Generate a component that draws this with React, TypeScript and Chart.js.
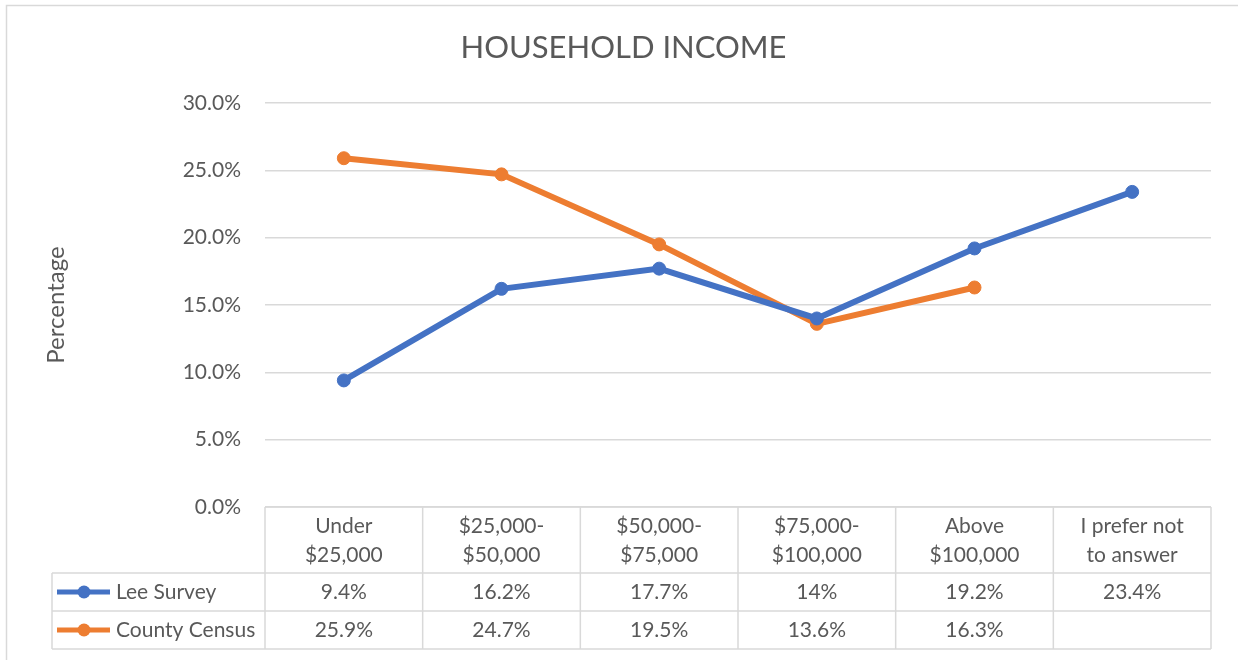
import React, { useEffect, useRef } from "react";
import { Chart, registerables } from "chart.js";

Chart.register(...registerables);

const chartTitle = "HOUSEHOLD INCOME";
const yAxisTitle = "Percentage";
const categories: string[][] = [
  ["Under", "$25,000"],
  ["$25,000-", "$50,000"],
  ["$50,000-", "$75,000"],
  ["$75,000-", "$100,000"],
  ["Above", "$100,000"],
  ["I prefer not", "to answer"],
];
const leeSurvey: (number | null)[] = [9.4, 16.2, 17.7, 14, 19.2, 23.4];
const countyCensus: (number | null)[] = [25.9, 24.7, 19.5, 13.6, 16.3, null];
const seriesNames = ["Lee Survey", "County Census"];
const seriesColors = ["#4472C4", "#ED7D31"];
const yMin = 0;
const yMax = 30;
const yStep = 5;

const FONT = "Lato, 'Open Sans', sans-serif";
const TEXT = "#595959";
const GRID = "#d9d9d9";

const tablePlugin = {
  id: "dataTable",
  afterDraw(chart: any) {
    const { ctx, chartArea } = chart;
    const xScale = chart.scales.x;
    const left = chartArea.left;
    const right = chartArea.right;
    const n = categories.length;
    const colW = (right - left) / n;
    const y0 = chartArea.bottom;
    const headerH = 66;
    const rowH = 38;
    const legendLeft = 52;
    ctx.save();
    // outer border
    ctx.strokeStyle = GRID;
    ctx.lineWidth = 1.5;
    ctx.beginPath();
    ctx.moveTo(6.5, 700);
    ctx.lineTo(6.5, 5.5);
    ctx.lineTo(1300, 5.5);
    ctx.stroke();

    ctx.lineWidth = 1.5;
    ctx.strokeStyle = GRID;
    ctx.beginPath();
    ctx.moveTo(left, y0);
    ctx.lineTo(right, y0);
    for (let r = 0; r <= 2; r++) {
      const yy = y0 + headerH + r * rowH;
      ctx.moveTo(legendLeft, yy);
      ctx.lineTo(right, yy);
    }
    for (let i = 0; i <= n; i++) {
      const xx = left + i * colW;
      ctx.moveTo(xx, y0);
      ctx.lineTo(xx, y0 + headerH + 2 * rowH);
    }
    ctx.moveTo(legendLeft, y0 + headerH);
    ctx.lineTo(legendLeft, y0 + headerH + 2 * rowH);
    ctx.stroke();

    ctx.fillStyle = TEXT;
    ctx.font = `21px ${FONT}`;
    ctx.textAlign = "center";
    ctx.textBaseline = "middle";
    categories.forEach((lines, i) => {
      const cx = xScale.getPixelForValue(i);
      lines.forEach((ln, j) => {
        ctx.fillText(ln, cx, y0 + 19 + j * 29);
      });
    });
    const series = [leeSurvey, countyCensus];
    series.forEach((vals, s) => {
      const cy = y0 + headerH + s * rowH + rowH / 2;
      ctx.fillStyle = TEXT;
      ctx.textAlign = "center";
      vals.forEach((v, i) => {
        if (v === null || v === undefined) return;
        ctx.fillText(`${v}%`, xScale.getPixelForValue(i), cy);
      });
      ctx.strokeStyle = seriesColors[s];
      ctx.lineWidth = 5;
      ctx.beginPath();
      ctx.moveTo(57, cy);
      ctx.lineTo(110, cy);
      ctx.stroke();
      ctx.fillStyle = seriesColors[s];
      ctx.beginPath();
      ctx.arc(84, cy, 6.5, 0, Math.PI * 2);
      ctx.fill();
      ctx.fillStyle = TEXT;
      ctx.textAlign = "left";
      ctx.fillText(seriesNames[s], 116, cy);
    });
    ctx.restore();
  },
};

export default function App() {
  const ref = useRef<HTMLCanvasElement | null>(null);
  useEffect(() => {
    if (!ref.current) return;
    const chart = new Chart(ref.current, {
      type: "line",
      data: {
        labels: categories.map((c) => c.join(" ")),
        datasets: [leeSurvey, countyCensus].map((d, i) => ({
          label: seriesNames[i],
          data: d,
          borderColor: seriesColors[i],
          backgroundColor: seriesColors[i],
          borderWidth: 6,
          pointRadius: 6.5,
          pointBorderWidth: 1,
          pointBackgroundColor: seriesColors[i],
          pointBorderColor: seriesColors[i],
          tension: 0,
          spanGaps: false,
        })),
      },
      options: {
        responsive: false,
        animation: false,
        layout: { padding: { left: 36, right: 27, top: 0, bottom: 153 } },
        plugins: {
          legend: { display: false },
          tooltip: { enabled: false },
          title: {
            display: true,
            text: chartTitle,
            color: TEXT,
            font: { family: FONT, size: 31, weight: "normal" },
            padding: { top: 29.5, bottom: 36.3 },
          },
        },
        scales: {
          x: {
            type: "category",
            display: false,
            offset: true,
          },
          y: {
            min: yMin,
            max: yMax,
            afterFit: (s: any) => {
              s.width = 229;
            },
            border: { display: false },
            grid: { color: GRID, lineWidth: 1.5, drawTicks: false },
            ticks: {
              stepSize: yStep,
              padding: 24,
              color: TEXT,
              font: { family: FONT, size: 21 },
              callback: (v: any) => `${Number(v).toFixed(1)}%`,
            },
            title: {
              display: true,
              text: yAxisTitle,
              color: TEXT,
              font: { family: FONT, size: 24 },
              padding: { top: 6, bottom: 0 },
            },
          },
        },
      },
      plugins: [tablePlugin],
    });
    return () => chart.destroy();
  }, []);
  return (
    <div style={{ position: "absolute", left: 0, top: 0, width: 1238, height: 660, background: "#fff" }}>
      <canvas ref={ref} width={1238} height={660} style={{ width: 1238, height: 660 }} />
    </div>
  );
}
